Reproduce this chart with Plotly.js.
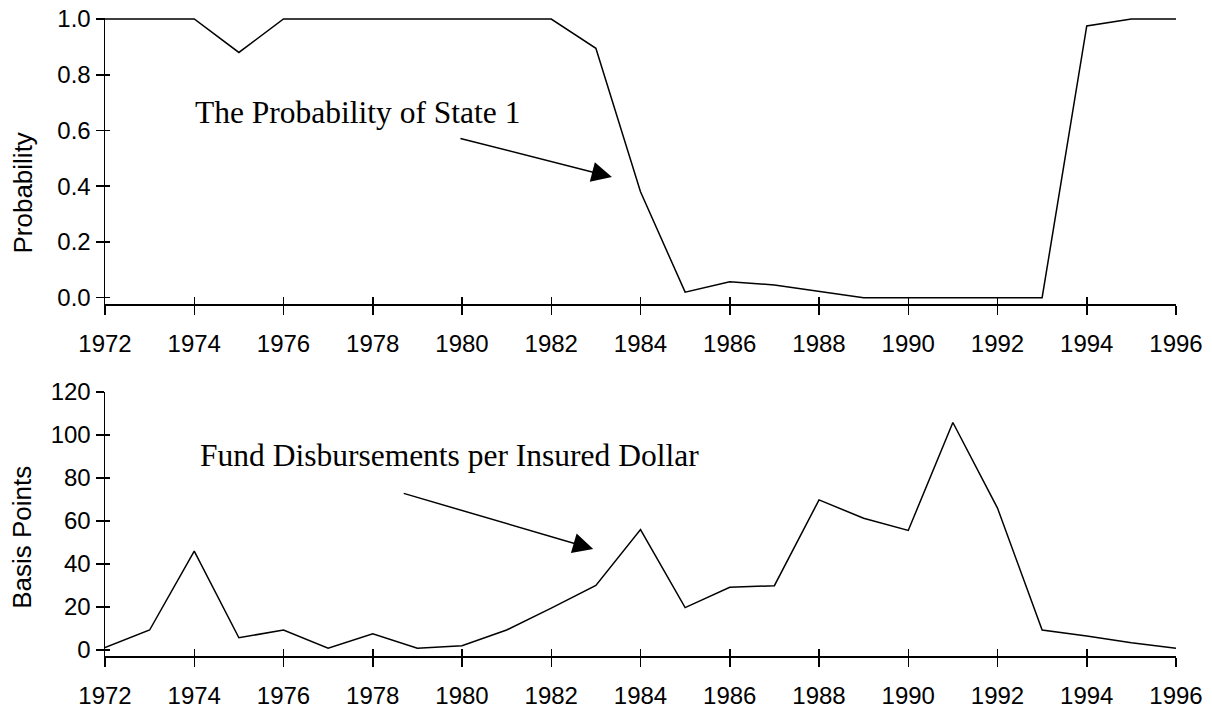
<!DOCTYPE html>
<html>
<head>
<meta charset="utf-8">
<script src="https://cdn.plot.ly/plotly-3.0.1.min.js"></script>
<style>html,body{margin:0;padding:0;background:#fff;}#chart{width:1212px;height:709px;}</style>
</head>
<body>
<div id="chart"></div>
<script>
// Data
var years = [1972,1973,1974,1975,1976,1977,1978,1979,1980,1981,1982,1983,1984,1985,1986,1987,1988,1989,1990,1991,1992,1993,1994,1995,1996];
var probState1 = [1,1,1,0.88,1,1,1,1,1,1,1,0.895,0.38,0.02,0.057,0.046,0.023,0,0,0,0,0,0.975,1,1];
var disbursements = [1.1,9.3,46,5.7,9.3,0.8,7.5,0.8,2.0,9.3,19.5,30,56,19.7,29.2,29.9,69.8,61.3,55.6,105.8,66,9.3,6.5,3.4,0.8];
var topLabel = 'The Probability of State 1';
var bottomLabel = 'Fund Disbursements per Insured Dollar';
var topTitle = 'Probability';
var bottomTitle = 'Basis Points';

var sans = 'Liberation Sans, Arial, sans-serif';
var serif = 'Liberation Serif, Times New Roman, serif';
var lineStyle = {color: '#000', width: 1.5};
var hidden = {color: 'rgba(0,0,0,0)', width: 0};

var traces = [
  {x: years, y: probState1, xaxis: 'x', yaxis: 'y', mode: 'lines', line: lineStyle, hoverinfo: 'skip', showlegend: false},
  {x: years, y: disbursements, xaxis: 'x2', yaxis: 'y2', mode: 'lines', line: lineStyle, hoverinfo: 'skip', showlegend: false},
  // carriers for the overlay axes that draw the inward half of the crossing ticks
  {x: years, y: probState1, xaxis: 'x3', yaxis: 'y3', mode: 'lines', line: hidden, opacity: 0, hoverinfo: 'skip', showlegend: false},
  {x: years, y: disbursements, xaxis: 'x4', yaxis: 'y4', mode: 'lines', line: hidden, opacity: 0, hoverinfo: 'skip', showlegend: false}
];

var xRange = [1972, 1996];
var yTopRange = [-0.0226, 1.0036];
var yBotRange = [-2.79, 120.0];

function xAxis(anchor, extra) {
  var a = {
    range: xRange, tick0: 1972, dtick: 2, tickmode: 'linear',
    showgrid: false, zeroline: false, showline: true, linecolor: '#000', linewidth: 1.5,
    ticks: 'outside', ticklen: 9, tickwidth: 1.5, tickcolor: '#000', ticklabelstandoff: 9,
    tickfont: {family: sans, size: 24, color: '#000'},
    anchor: anchor, fixedrange: true
  };
  for (var k in extra) a[k] = extra[k];
  return a;
}
function yAxis(anchor, range, dtick, fmt, extra) {
  var a = {
    range: range, tick0: 0, dtick: dtick, tickmode: 'linear', tickformat: fmt,
    showgrid: false, zeroline: false, showline: true, linecolor: '#000', linewidth: 1.5,
    ticks: 'outside', ticklen: 8, tickwidth: 1.5, tickcolor: '#000',
    tickfont: {family: sans, size: 24, color: '#000'},
    anchor: anchor, fixedrange: true
  };
  for (var k in extra) a[k] = extra[k];
  return a;
}

var layout = {
  width: 1212, height: 709,
  margin: {l: 105, r: 36, t: 18, b: 53},
  paper_bgcolor: '#fff', plot_bgcolor: 'rgba(0,0,0,0)',
  showlegend: false,
  xaxis: xAxis('y', {domain: [0, 1]}),
  yaxis: yAxis('x', yTopRange, 0.2, '.1f', {domain: [0.5517, 1]}),
  xaxis2: xAxis('y2', {domain: [0, 1]}),
  yaxis2: yAxis('x2', yBotRange, 20, 'd', {domain: [0, 0.4138]}),
  xaxis3: xAxis('y', {overlaying: 'x', ticks: 'inside', ticklen: 7, showticklabels: false, showline: false}),
  yaxis3: yAxis('x', yTopRange, 0.2, '.1f', {overlaying: 'y', ticks: 'inside', ticklen: 5, showticklabels: false, showline: false}),
  xaxis4: xAxis('y2', {overlaying: 'x2', ticks: 'inside', ticklen: 7, showticklabels: false, showline: false}),
  yaxis4: yAxis('x2', yBotRange, 20, 'd', {overlaying: 'y2', ticks: 'inside', ticklen: 5, showticklabels: false, showline: false}),
  annotations: [
    {xref: 'x', yref: 'y', x: 1973.97, y: 0.666, xanchor: 'left', yanchor: 'middle', text: topLabel, showarrow: false,
     font: {family: serif, size: 31.5, color: '#000'}},
    {xref: 'x', yref: 'y', x: 1983.36, y: 0.433, ax: -153, ay: -39, text: '', showarrow: true,
     arrowhead: 2, arrowsize: 2.7, arrowwidth: 1.5, arrowcolor: '#000', standoff: 0},
    {xref: 'x2', yref: 'y2', x: 1974.08, y: 90.3, xanchor: 'left', yanchor: 'middle', text: bottomLabel, showarrow: false,
     font: {family: serif, size: 31.5, color: '#000'}},
    {xref: 'x2', yref: 'y2', x: 1982.94, y: 47.0, ax: -191, ay: -56, text: '', showarrow: true,
     arrowhead: 2, arrowsize: 2.7, arrowwidth: 1.5, arrowcolor: '#000', standoff: 0},
    {xref: 'paper', yref: 'y', x: -0.077, y: 0.3757, xanchor: 'center', yanchor: 'middle', textangle: -90,
     text: topTitle, showarrow: false, font: {family: sans, size: 26, color: '#000'}},
    {xref: 'paper', yref: 'y2', x: -0.077, y: 52.4, xanchor: 'center', yanchor: 'middle', textangle: -90,
     text: bottomTitle, showarrow: false, font: {family: sans, size: 26, color: '#000'}}
  ]
};

Plotly.newPlot('chart', traces, layout, {staticPlot: true, displayModeBar: false});
</script>
</body>
</html>
